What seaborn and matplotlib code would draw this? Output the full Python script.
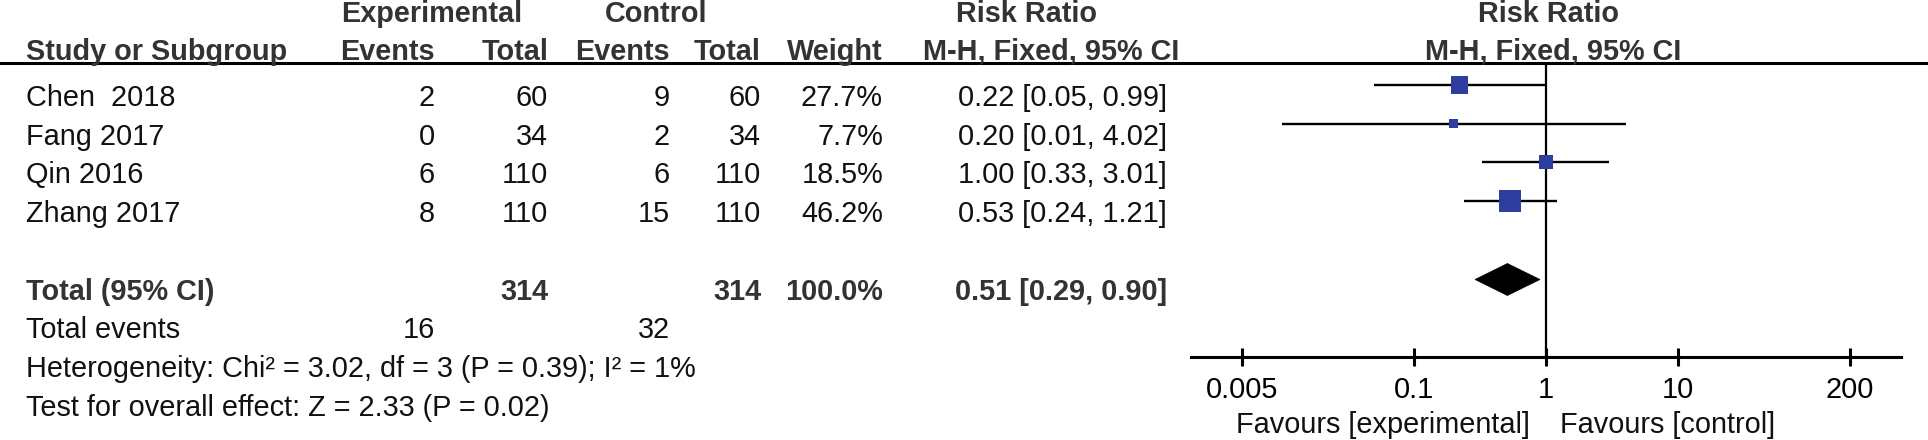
import numpy as np
import pandas as pd
import matplotlib
matplotlib.use("Agg")
import matplotlib.pyplot as plt
import seaborn as sns
from matplotlib.lines import Line2D
from matplotlib.patches import Polygon
from matplotlib.ticker import FixedLocator, FixedFormatter, NullLocator

# ---------------- data ----------------
studies = ["Chen  2018", "Fang 2017", "Qin 2016", "Zhang 2017"]
exp_events = [2, 0, 6, 8]
exp_total = [60, 34, 110, 110]
ctrl_events = [9, 2, 6, 15]
ctrl_total = [60, 34, 110, 110]
weights = [27.7, 7.7, 18.5, 46.2]
rr = [0.22, 0.20, 1.00, 0.53]
rr_lo = [0.05, 0.01, 0.33, 0.24]
rr_hi = [0.99, 4.02, 3.01, 1.21]

total_exp = 314
total_ctrl = 314
total_weight = 100.0
total_rr = 0.51
total_lo = 0.29
total_hi = 0.90
total_events_exp = 16
total_events_ctrl = 32

het_text = "Heterogeneity: Chi\u00b2 = 3.02, df = 3 (P = 0.39); I\u00b2 = 1%"
test_text = "Test for overall effect: Z = 2.33 (P = 0.02)"

tick_values = [0.005, 0.1, 1, 10, 200]
tick_labels = ["0.005", "0.1", "1", "10", "200"]
favours_left = "Favours [experimental]"
favours_right = "Favours [control]"

# ---------------- style ----------------
sns.set_theme(style="white")
plt.rcParams['font.family'] = ['Liberation Sans', 'DejaVu Sans']

W, H = 1928, 440
FS = 20.8
INK = "#111111"
HEAD = "#333333"
BLUE = "#2E3E9E"

fig = plt.figure(figsize=(W / 100, H / 100), dpi=100)
fig.patch.set_facecolor("white")


def ftext(x, y, s, ha="left", bold=False, color=None):
    fig.text(x / W, 1 - y / H, s, ha=ha, va="baseline", fontsize=FS,
             fontweight="bold" if bold else "normal",
             color=color if color else (HEAD if bold else INK))


# row layout (pixel baselines)
HDR0, HDR1 = 22, 60
ROW0, PITCH = 106, 38.7
LINE_Y = 63
AXIS_Y = 357

def row_base(i):
    return ROW0 + i * PITCH

# column anchors
C_STUDY = 26
C_EE, C_ET, C_CE, C_CT, C_W, C_RR = 435, 548, 670, 761, 883, 1167

# headers
ftext(432, HDR0, "Experimental", ha="center", bold=True)
ftext(656, HDR0, "Control", ha="center", bold=True)
ftext(1027, HDR0, "Risk Ratio", ha="center", bold=True)
ftext(1548, HDR0, "Risk Ratio", ha="center", bold=True)

ftext(C_STUDY, HDR1, "Study or Subgroup", bold=True)
ftext(C_EE, HDR1, "Events", ha="right", bold=True)
ftext(C_ET, HDR1, "Total", ha="right", bold=True)
ftext(C_CE, HDR1, "Events", ha="right", bold=True)
ftext(C_CT, HDR1, "Total", ha="right", bold=True)
ftext(C_W, HDR1, "Weight", ha="right", bold=True)
ftext(1051, HDR1, "M-H, Fixed, 95% CI", ha="center", bold=True)
ftext(1553, HDR1, "M-H, Fixed, 95% CI", ha="center", bold=True)

fig.add_artist(Line2D([0, 1], [1 - LINE_Y / H] * 2, transform=fig.transFigure,
                      color="black", lw=2.2))

# study rows
for i, s in enumerate(studies):
    b = row_base(i)
    ftext(C_STUDY, b, s)
    ftext(C_EE, b, str(exp_events[i]), ha="right")
    ftext(C_ET, b, str(exp_total[i]), ha="right")
    ftext(C_CE, b, str(ctrl_events[i]), ha="right")
    ftext(C_CT, b, str(ctrl_total[i]), ha="right")
    ftext(C_W, b, f"{weights[i]:.1f}%", ha="right")
    ftext(C_RR, b, f"{rr[i]:.2f} [{rr_lo[i]:.2f}, {rr_hi[i]:.2f}]", ha="right")

# total rows
bt = row_base(5)
ftext(C_STUDY, bt, "Total (95% CI)", bold=True)
ftext(C_ET, bt, str(total_exp), ha="right", bold=True)
ftext(C_CT, bt, str(total_ctrl), ha="right", bold=True)
ftext(C_W, bt, f"{total_weight:.1f}%", ha="right", bold=True)
ftext(C_RR, bt, f"{total_rr:.2f} [{total_lo:.2f}, {total_hi:.2f}]", ha="right", bold=True)

be = row_base(6)
ftext(C_STUDY, be, "Total events")
ftext(C_EE, be, str(total_events_exp), ha="right")
ftext(C_CE, be, str(total_events_ctrl), ha="right")
ftext(C_STUDY, row_base(7), het_text)
ftext(C_STUDY, row_base(8), test_text)

# ---------------- forest panel ----------------
AX_L, AX_R = 1191, 1901
ax = fig.add_axes([AX_L / W, 0, (AX_R - AX_L) / W, 1])
ax.patch.set_alpha(0)
ax.set_xscale("log")

MARK_OFF = 21
df = pd.DataFrame({
    "study": studies,
    "rr": rr,
    "lo": rr_lo,
    "hi": rr_hi,
    "weight": weights,
    "y": [row_base(i) - MARK_OFF for i in range(len(studies))],
})

ax.hlines(df["y"], df["lo"], df["hi"], color="black", lw=1.7, zorder=2)
k = (22 * 0.72) ** 2 / max(weights)
sns.scatterplot(data=df, x="rr", y="y", size="weight",
                sizes=(k * min(weights), k * max(weights)),
                marker="s", color=BLUE, linewidth=0, legend=False,
                ax=ax, zorder=3)

yd = row_base(5) - 20
diamond = Polygon([(total_lo, yd), (total_rr, yd - 16), (total_hi, yd), (total_rr, yd + 16)],
                  closed=True, facecolor="black", edgecolor="black", lw=0.5, zorder=3)
ax.add_patch(diamond)

ax.vlines(1, LINE_Y, AXIS_Y, color="black", lw=1.6, zorder=1)

ax.set_xlim(10 ** -2.69, 10 ** 2.69)
ax.set_ylim(H, 0)
ax.set_xlabel("")
ax.set_ylabel("")
for side in ["top", "left", "right"]:
    ax.spines[side].set_visible(False)
ax.spines["bottom"].set_position(("data", AXIS_Y))
ax.spines["bottom"].set_linewidth(2.2)
ax.spines["bottom"].set_color("black")
ax.xaxis.set_major_locator(FixedLocator(tick_values))
ax.xaxis.set_major_formatter(FixedFormatter(tick_labels))
ax.xaxis.set_minor_locator(NullLocator())
ax.yaxis.set_major_locator(NullLocator())
ax.tick_params(axis="x", which="major", direction="inout", length=13, width=2.2,
               labelsize=FS, pad=7.5, colors="black", bottom=True)
ax.grid(False)

ftext(1530, 433, favours_left, ha="right")
ftext(1560, 433, favours_right, ha="left")

fig.savefig("out.png", dpi=100, facecolor="white")
